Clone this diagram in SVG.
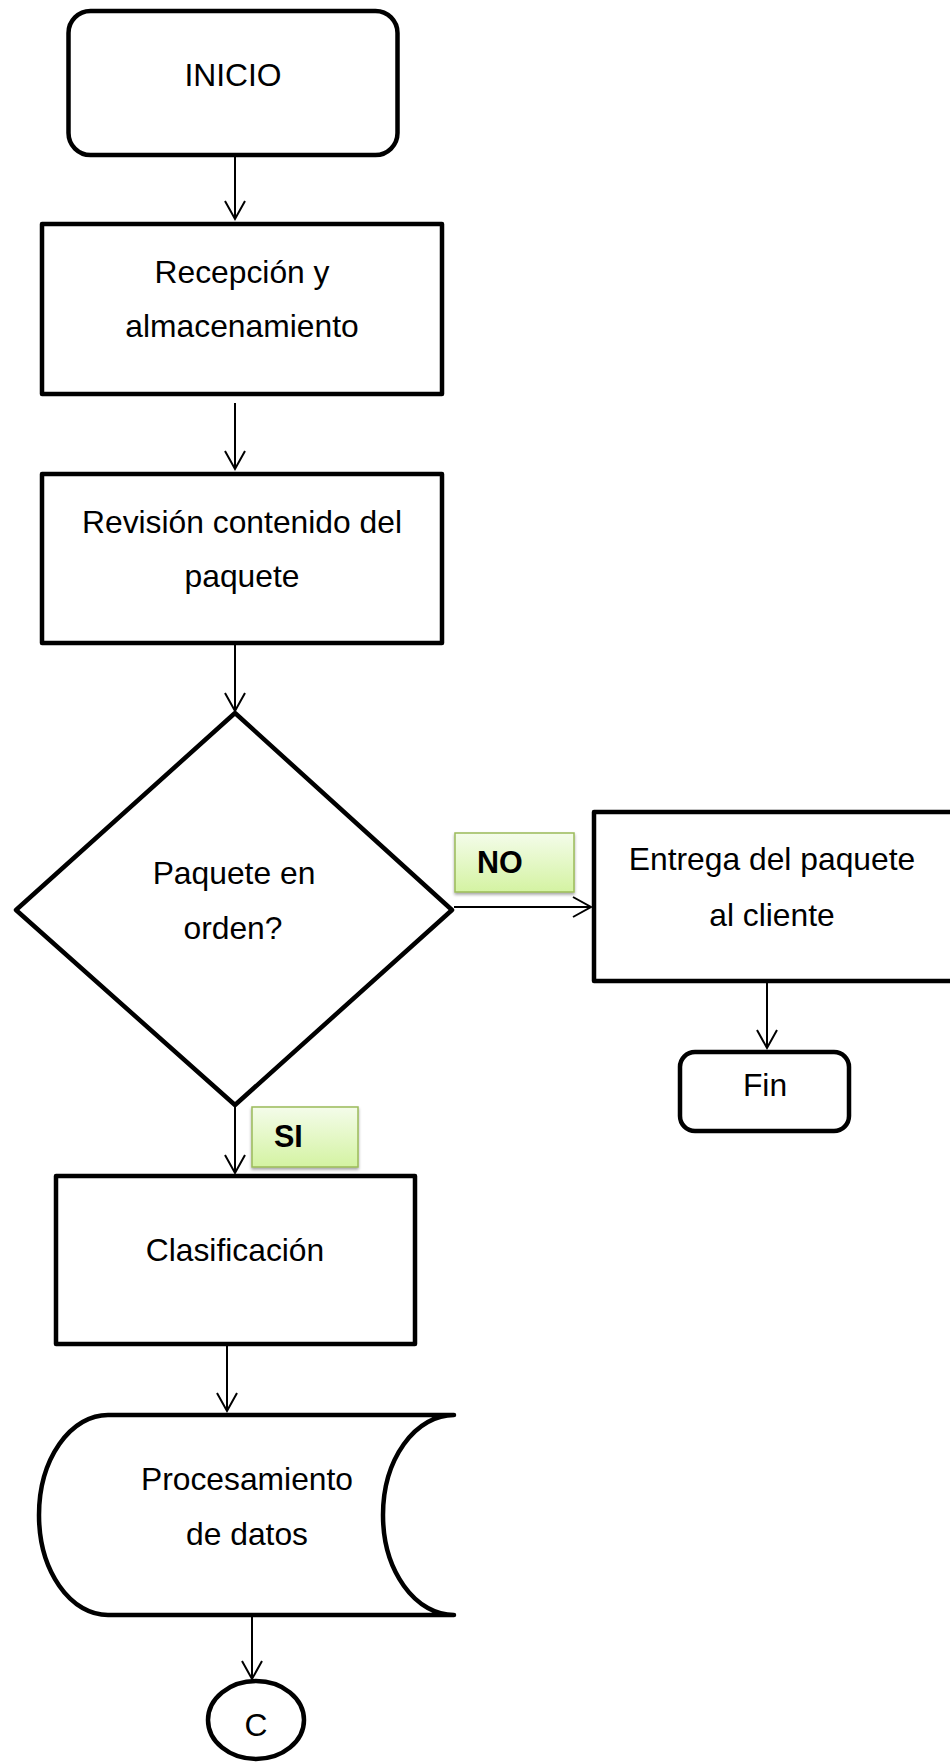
<svg xmlns="http://www.w3.org/2000/svg" width="950" height="1763" viewBox="0 0 950 1763">
  <defs>
    <linearGradient id="green" x1="0" y1="0" x2="0" y2="1">
      <stop offset="0" stop-color="#f4fcea"/>
      <stop offset="1" stop-color="#d4f3a2"/>
    </linearGradient>
    <filter id="shadow" x="-10%" y="-10%" width="130%" height="140%">
      <feDropShadow dx="0" dy="2" stdDeviation="1.5" flood-color="#000" flood-opacity="0.35"/>
    </filter>
    <marker id="arrow" markerUnits="userSpaceOnUse" markerWidth="24" markerHeight="24" viewBox="-20 -12 24 24" refX="0" refY="0" orient="auto">
      <path d="M-18,-10 L0,0 L-18,10" fill="none" stroke="#000" stroke-width="2" stroke-linejoin="miter"/>
    </marker>
  </defs>
  <style>
    .shape { fill: #fff; stroke: #000; stroke-width: 4.5; stroke-linejoin: round; }
    .txt { font-family: "Liberation Sans", Arial, sans-serif; font-size: 31.8px; fill: #000; text-anchor: middle; }
    .lbl { fill: url(#green); stroke: #9bbb59; stroke-width: 1.5; filter: url(#shadow); }
    .lbltxt { font-family: "Liberation Sans", Arial, sans-serif; font-size: 30.5px; font-weight: bold; fill: #000; }
    .conn { fill: none; stroke: #000; stroke-width: 2; marker-end: url(#arrow); }
  </style>
  <rect width="950" height="1763" fill="#fff"/>

  <g id="connectors">
    <line class="conn" x1="235" y1="157" x2="235" y2="219"/>
    <line class="conn" x1="235" y1="403" x2="235" y2="469"/>
    <line class="conn" x1="235" y1="645" x2="235" y2="711"/>
    <line class="conn" x1="454" y1="907" x2="591" y2="907"/>
    <line class="conn" x1="235" y1="1107" x2="235" y2="1173"/>
    <line class="conn" x1="767" y1="983" x2="767" y2="1048"/>
    <line class="conn" x1="227" y1="1346" x2="227" y2="1411"/>
    <line class="conn" x1="252" y1="1616" x2="252" y2="1679"/>
  </g>

  <g id="inicio">
    <rect class="shape" x="68.5" y="11" width="329" height="144" rx="22"/>
    <text class="txt" x="233" y="86">INICIO</text>
  </g>

  <g id="recepcion">
    <rect class="shape" x="42" y="224" width="400" height="170"/>
    <text class="txt" x="242" y="283">Recepción y</text>
    <text class="txt" x="242" y="337">almacenamiento</text>
  </g>

  <g id="revision">
    <rect class="shape" x="42" y="474" width="400" height="169"/>
    <text class="txt" x="242" y="533">Revisión contenido del</text>
    <text class="txt" x="242" y="587">paquete</text>
  </g>

  <g id="decision">
    <polygon class="shape" points="235,713 452,910 235,1105 16,910"/>
    <text class="txt" x="234" y="884">Paquete en</text>
    <text class="txt" x="233" y="939">orden?</text>
  </g>

  <g id="label-no">
    <rect class="lbl" x="455" y="833" width="119" height="59"/>
    <text class="lbltxt" x="477" y="873">NO</text>
  </g>

  <g id="entrega">
    <rect class="shape" x="594" y="812" width="380" height="169"/>
    <text class="txt" x="772" y="870">Entrega del paquete</text>
    <text class="txt" x="772" y="926">al cliente</text>
  </g>

  <g id="fin">
    <rect class="shape" x="680" y="1052" width="169" height="79" rx="15"/>
    <text class="txt" x="765" y="1096">Fin</text>
  </g>

  <g id="label-si">
    <rect class="lbl" x="252" y="1107" width="106" height="60"/>
    <text class="lbltxt" x="274" y="1147">SI</text>
  </g>

  <g id="clasificacion">
    <rect class="shape" x="56" y="1176" width="359" height="168"/>
    <text class="txt" x="235" y="1261">Clasificación</text>
  </g>

  <g id="procesamiento">
    <path class="shape" stroke-linecap="round" d="M108,1415 L454,1415 A71,100 0 0 0 454,1615 L108,1615 A69,100 0 0 1 108,1415 Z"/>
    <text class="txt" x="247" y="1490">Procesamiento</text>
    <text class="txt" x="247" y="1545">de datos</text>
  </g>

  <g id="conector-c">
    <ellipse class="shape" cx="256" cy="1720" rx="48" ry="39"/>
    <text class="txt" x="256" y="1736">C</text>
  </g>
</svg>
